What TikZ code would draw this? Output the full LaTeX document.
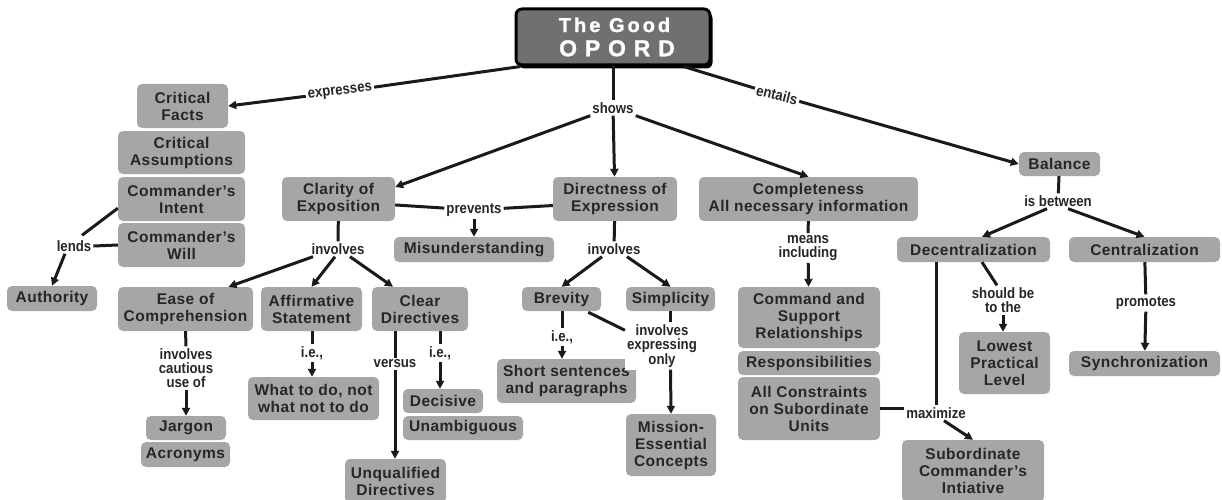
\documentclass[tikz,border=0pt]{standalone}
\usepackage{fontspec}
\setmainfont{Liberation Sans}
\newfontfamily\boxfont[LetterSpace=3]{Liberation Sans}
\newfontfamily\lblfont[FakeStretch=0.88]{Liberation Sans}
\newfontfamily\ttlfont[FakeBold=1.2]{Liberation Sans}
\usetikzlibrary{arrows.meta,calc,shadows}
\definecolor{boxgray}{HTML}{A6A6A6}
\definecolor{txt}{HTML}{262626}
\definecolor{lin}{HTML}{1A1A1A}
\definecolor{ttlgray}{HTML}{707070}
\begin{document}
\begin{tikzpicture}[x=1pt,y=-1pt,
  box/.style={fill=boxgray, rounded corners=5pt, inner sep=0pt, align=center, text=txt,
    font=\boxfont\bfseries\fontsize{15.5}{17}\selectfont},
  lbl/.style={fill=white, inner sep=2pt, align=center, text=txt,
    font=\lblfont\bfseries\fontsize{15}{14}\selectfont},
  conn/.style={draw=lin, line width=3pt},
  arr/.style={conn, -{Triangle[length=8pt,width=8pt]}},
  ttl/.style={fill=ttlgray, draw=black, line width=3pt, rounded corners=6pt, inner sep=0pt,
    align=center, text=white,
    drop shadow={shadow xshift=2.5pt, shadow yshift=-3.5pt, fill=black, opacity=1}}
]
\useasboundingbox (0,0) rectangle (1222,500);

% title
\node[ttl, minimum width=194pt, minimum height=56pt] (title) at (613,37)
  {{\ttlfont\bfseries\fontsize{20}{20}\selectfont\addfontfeature{LetterSpace=15}The Good\hspace*{-3pt}}\\[7pt]
   {\ttlfont\bfseries\fontsize{23}{23}\selectfont\addfontfeature{LetterSpace=34}OPORD\hspace*{-8pt}}};

% boxes
\node[box, minimum width=91pt, minimum height=44pt] (facts) at (182.5,106) {Critical\\Facts};
\node[box, minimum width=127pt, minimum height=43pt] (assump) at (181.5,152.5) {Critical\\Assumptions};
\node[box, minimum width=127pt, minimum height=44pt] (intent) at (181.5,199) {Commander’s\\Intent};
\node[box, minimum width=127pt, minimum height=44pt] (will) at (181.5,245) {Commander’s\\Will};
\node[box, minimum width=90pt, minimum height=25pt] (authority) at (52,298.5) {Authority};
\node[box, minimum width=113pt, minimum height=44pt] (clarity) at (338.5,199) {Clarity of\\Exposition};
\node[box, minimum width=124pt, minimum height=44pt] (direct) at (615,199) {Directness of\\Expression};
\node[box, minimum width=219pt, minimum height=44pt] (complete) at (808.5,199) {Completeness\\All necessary information};
\node[box, minimum width=81pt, minimum height=24pt] (balance) at (1059.5,164) {Balance};
\node[box, minimum width=160pt, minimum height=25pt] (misunder) at (474,249.5) {Misunderstanding};
\node[box, minimum width=135pt, minimum height=44pt] (ease) at (185.5,309) {Ease of\\Comprehension};
\node[box, minimum width=101pt, minimum height=44pt] (affirm) at (311.5,309) {Affirmative\\Statement};
\node[box, minimum width=96pt, minimum height=44pt] (cleardir) at (420,309) {Clear\\Directives};
\node[box, minimum width=79pt, minimum height=24pt] (brevity) at (561.5,299) {Brevity};
\node[box, minimum width=89pt, minimum height=24pt] (simp) at (670.5,299) {Simplicity};
\node[box, minimum width=142pt, minimum height=61pt] (cmd) at (809,317.5) {Command and\\Support\\Relationships};
\node[box, minimum width=142pt, minimum height=24pt] (resp) at (809,363) {Responsibilities};
\node[box, minimum width=142pt, minimum height=63pt] (constr) at (809,408.5) {All Constraints\\on Subordinate\\Units};
\node[box, minimum width=153pt, minimum height=25pt] (decentral) at (973.5,249.5) {Decentralization};
\node[box, minimum width=151pt, minimum height=25pt] (central) at (1144.5,249.5) {Centralization};
\node[box, minimum width=91pt, minimum height=62pt] (lowest) at (1004.5,363) {Lowest\\Practical\\Level};
\node[box, minimum width=151pt, minimum height=25pt] (sync) at (1144.5,363.5) {Synchronization};
\node[box, minimum width=80pt, minimum height=24pt] (jargon) at (186,428) {Jargon};
\node[box, minimum width=89pt, minimum height=25pt] (acro) at (185.5,454.5) {Acronyms};
\node[box, minimum width=131pt, minimum height=43pt] (what) at (313.5,398.5) {What to do, not\\what not to do};
\node[box, minimum width=80pt, minimum height=24pt] (decisive) at (443,401) {Decisive};
\node[box, minimum width=120pt, minimum height=24pt] (unamb) at (463,428) {Unambiguous};
\node[box, minimum width=101pt, minimum height=44pt] (unqual) at (395.5,481) {Unqualified\\Directives};
\node[box, minimum width=139pt, minimum height=44pt] (short) at (566.5,381) {Short sentences\\and paragraphs};
\node[box, minimum width=90pt, minimum height=62pt] (mission) at (671,445) {Mission-\\Essential\\Concepts};
\node[box, minimum width=142pt, minimum height=62pt] (subord) at (973,471) {Subordinate\\Commander’s\\Intiative};

% labels
\node[lbl, rotate=7] (expr) at (340,92) {expresses};
\node[lbl] (shows) at (613,108) {shows};
\node[lbl, rotate=-14] (ent) at (777,95) {entails};
\node[lbl] (lends) at (74,246) {lends};
\node[lbl] (prev) at (474,210) {prevents};
\node[lbl] (inv1) at (338,249) {involves};
\node[lbl] (inv2) at (186,368) {involves\\cautious\\use of};
\node[lbl] (ie1) at (312,353) {i.e.,};
\node[lbl] (versus) at (395,364) {versus};
\node[lbl] (ie2) at (440,353) {i.e.,};
\node[lbl] (inv3) at (614,249) {involves};
\node[lbl] (ie3) at (562,337) {i.e.,};
\node[lbl] (inv4) at (662,346) {involves\\expressing\\only};
\node[lbl] (means) at (808,248) {means\\including};
\node[lbl] (maximize) at (936,413) {maximize};
\node[lbl] (isb) at (1058,201) {is between};
\node[lbl] (shouldbe) at (1003,300) {should be\\to the};
\node[lbl] (promotes) at (1146,303) {promotes};

% connectors
\draw[conn] ($(title.south west)+(6,0)$) -- (expr);
\draw[arr] (expr) -- (facts.east);
\draw[conn] (title.south) -- (shows);
\draw[arr] (shows) -- (direct);
\draw[arr] (shows.south west) -- (clarity.12);
\draw[arr] (shows.south east) -- (complete.north);
\draw[conn] ($(title.south east)+(-28,0)$) -- (ent);
\draw[arr] (ent) -- (balance.west);

\draw[conn] ($(intent.south west)+(0,-13)$) -- ($(lends.north)+(8,-3)$);
\draw[conn] (will.west) -- (lends.east);
\draw[arr] ($(lends.south)+(-9,0)$) -- (authority.north);

\draw[conn] (clarity.-6) -- (prev);
\draw[conn] (prev) -- (direct.186);
\draw[arr] (prev) -- (misunder);

\draw[conn] (clarity) -- (inv1);
\draw[arr] ($(inv1.south)+(-25,0)$) -- ($(ease.north)+(43,0)$);
\draw[arr] ($(inv1.south)+(-3,0)$) -- (affirm.north);
\draw[arr] ($(inv1.south)+(12,0)$) -- ($(cleardir.north)+(-27,0)$);

\draw[conn] (ease) -- (inv2);
\draw[arr] (inv2) -- (jargon);
\draw[conn] (affirm.south -| ie1) -- (ie1);
\draw[arr] (ie1) -- (ie1 |- what.north);
\draw[conn] (cleardir.south -| versus) -- (versus);
\draw[arr] (versus) -- (versus |- unqual.north);
\draw[conn] (cleardir.south -| ie2) -- (ie2);
\draw[arr] (ie2) -- (ie2 |- decisive.north);

\draw[conn] (direct) -- (inv3);
\draw[arr] ($(inv3.south)+(-12,0)$) -- (brevity.north);
\draw[arr] ($(inv3.south)+(13,0)$) -- (simp.north);
\draw[conn] (brevity.south -| ie3) -- (ie3);
\draw[arr] (ie3) -- (ie3 |- short.north);
\draw[conn] ($(brevity.south east)+(-13,1)$) -- ($(inv4.north west)+(0,8)$);
\draw[conn] (simp.south) -- (simp.south |- inv4.north);
\draw[arr] (simp.south |- inv4.south) -- (mission.north);

\draw[conn] (complete) -- (means);
\draw[arr] (means) -- (cmd);

\draw[conn] (constr.east) -- (constr.east -| maximize.west);
\draw[conn] (decentral.south -| maximize) -- (maximize);
\draw[arr] ($(maximize.south)+(8,0)$) -- (subord.north);

\draw[conn] (balance) -- (isb);
\draw[arr] ($(isb.south)+(-11,0)$) -- ($(decentral.north)+(8.5,0)$);
\draw[arr] ($(isb.south)+(10,0)$) -- (central.north);
\draw[conn] ($(decentral.south)+(8.5,0)$) -- ($(shouldbe.north)+(-6,0)$);
\draw[arr] (shouldbe) -- (shouldbe |- lowest.north);
\draw[conn] (central) -- (promotes);
\draw[arr] (promotes) -- (sync);
\end{tikzpicture}
\end{document}
